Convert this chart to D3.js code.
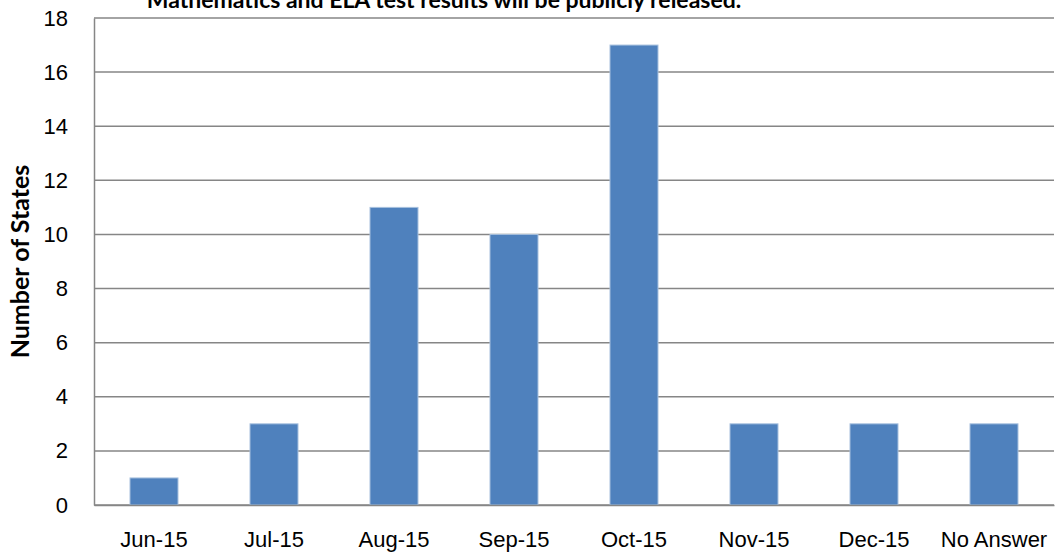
<!DOCTYPE html>
<html>
<head>
<meta charset="utf-8">
<script src="https://cdn.jsdelivr.net/npm/d3@7"></script>
<style>
  body { margin: 0; background: #fff; }
  svg { display: block; font-family: Lato, "Open Sans", sans-serif; }
</style>
</head>
<body>
<svg id="chart" width="1058" height="552"></svg>
<script>
"use strict";

// valeurs
const months = ["Jun-15", "Jul-15", "Aug-15", "Sep-15", "Oct-15", "Nov-15", "Dec-15", "No Answer"];
const states = [1, 3, 11, 10, 17, 3, 3, 3];
const yTicks = [0, 2, 4, 6, 8, 10, 12, 14, 16, 18];
const title = "Mathematics and ELA test results will be publicly released.";
const yTitle = "Number of States";

const svg = d3.select("#chart");
const margin = { left: 94, right: 4, top: 18, bottom: 47 };
const width = 1058 - margin.left - margin.right;
const height = 552 - margin.top - margin.bottom;

const x = d3.scaleBand()
  .domain(months)
  .range([0, width])
  .paddingInner(0.6)
  .paddingOuter(0.3);

const y = d3.scaleLinear()
  .domain([0, 18])
  .range([height, 0]);

const g = svg.append("g")
  .attr("transform", "translate(" + margin.left + "," + margin.top + ")");

// grille horizontale
g.selectAll("line.grid")
  .data(yTicks)
  .enter()
  .append("line")
  .attr("class", "grid")
  .attr("x1", 0)
  .attr("x2", width)
  .attr("y1", d => y(d))
  .attr("y2", d => y(d))
  .attr("stroke", "#868686")
  .attr("stroke-width", 1.5);

// barres
g.selectAll("rect")
  .data(states)
  .enter()
  .append("rect")
  .attr("x", (d, i) => x(months[i]))
  .attr("y", d => y(d))
  .attr("width", x.bandwidth())
  .attr("height", d => y(0) - y(d))
  .attr("fill", "#4F81BD")
  .attr("stroke", "#A7C0DE")
  .attr("stroke-width", 1);

// axe Y
const yAxis = g.append("g")
  .call(d3.axisLeft(y).tickValues(yTicks).tickSize(0).tickPadding(26));
yAxis.select(".domain").attr("stroke", "#868686").attr("stroke-width", 1.5);
yAxis.selectAll("text")
  .style("font-size", "22px")
  .attr("fill", "#000");

// axe X
const xAxis = g.append("g")
  .attr("transform", "translate(0," + height + ")")
  .call(d3.axisBottom(x).tickSize(0).tickPadding(26));
xAxis.select(".domain").attr("stroke", "#868686").attr("stroke-width", 1.5);
xAxis.selectAll("text")
  .style("font-size", "22px")
  .attr("fill", "#000");

// titre (coupé en haut dans l'original)
svg.append("text")
  .attr("x", 444)
  .attr("y", 8)
  .attr("text-anchor", "middle")
  .style("font-size", "23px")
  .style("font-weight", "bold")
  .text(title);

// titre de l'axe Y
svg.append("text")
  .attr("transform", "translate(29," + (margin.top + height / 2) + ") rotate(-90)")
  .attr("text-anchor", "middle")
  .style("font-size", "25px")
  .style("font-weight", "bold")
  .text(yTitle);
</script>
</body>
</html>
